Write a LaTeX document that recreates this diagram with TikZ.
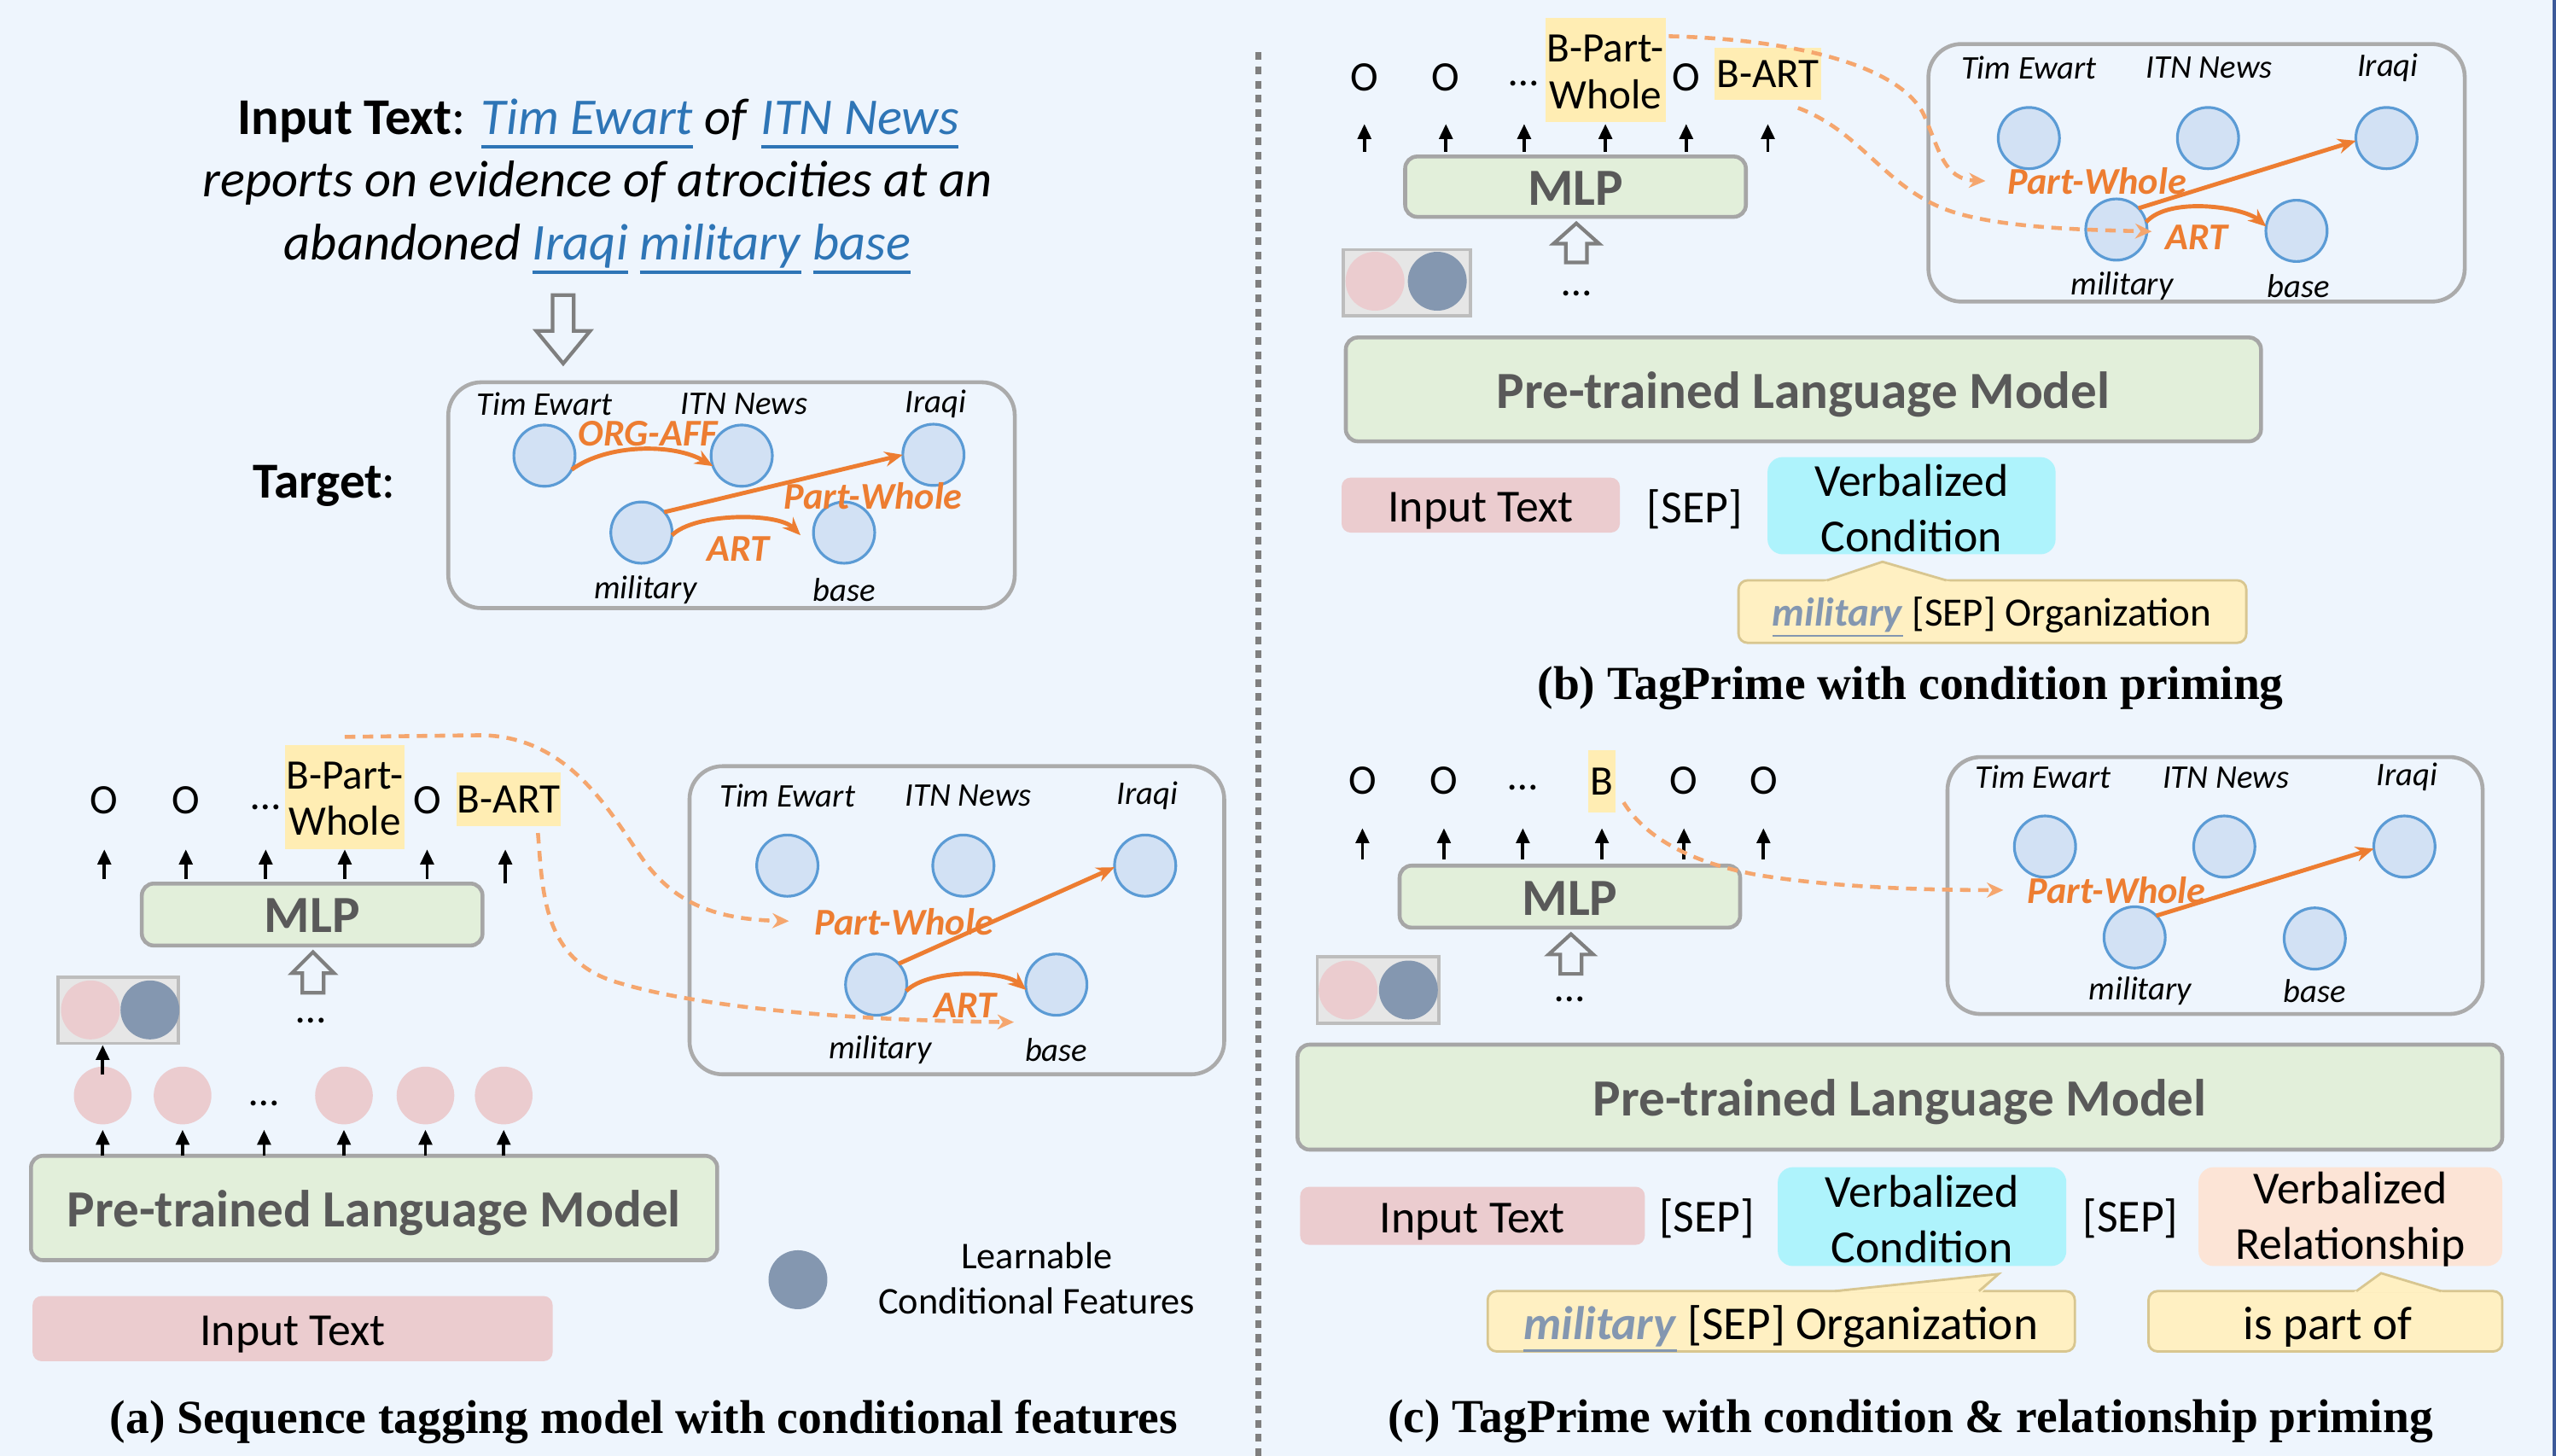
\documentclass[tikz,border=0pt]{standalone}
\usepackage{fontspec}
\setmainfont{Carlito}
\newfontfamily\zzcapfont{Liberation Serif}
\usetikzlibrary{arrows.meta,fit,calc}
\definecolor{bgc}{HTML}{EEF5FD}
\definecolor{greenf}{HTML}{E2EFDA}
\definecolor{boxline}{HTML}{A6A6A6}
\definecolor{gboxl}{HTML}{ABABAB}
\definecolor{pinkf}{HTML}{EBCCCF}
\definecolor{bluegray}{HTML}{8497B0}
\definecolor{pairf}{HTML}{E6E6E6}
\definecolor{pairl}{HTML}{BDBDBD}
\definecolor{circf}{HTML}{D2E1F4}
\definecolor{circl}{HTML}{5B9BD5}
\definecolor{orng}{HTML}{ED7D31}
\definecolor{dorng}{HTML}{F5A66E}
\definecolor{hly}{HTML}{FFEDB3}
\definecolor{callf}{HTML}{FFF0C2}
\definecolor{calll}{HTML}{D8C690}
\definecolor{cyanf}{HTML}{AEF3FC}
\definecolor{peachf}{HTML}{FCE4D6}
\definecolor{linkb}{HTML}{2E75B6}
\definecolor{plmtext}{HTML}{595959}
\definecolor{edgeb}{HTML}{3D5A99}
\definecolor{hollowl}{HTML}{7F7F7F}
\newcommand\zzA{\fontsize{17.2pt}{20.6pt}\selectfont}
\newcommand\zzB{\fontsize{17.4pt}{20pt}\selectfont}
\newcommand\zzC{\fontsize{15.3pt}{18.6pt}\selectfont}
\newcommand\zzT{\fontsize{14pt}{15.6pt}\selectfont}
\newcommand\zzG{\fontsize{11pt}{13pt}\selectfont}
\newcommand\zzR{\fontsize{12.6pt}{14pt}\selectfont}
\newcommand\zzL{\fontsize{12.6pt}{15.2pt}\selectfont}
\newcommand\zzTg{\fontsize{16.8pt}{20pt}\selectfont}
\newcommand\zzCb{\fontsize{13.4pt}{16pt}\selectfont}
\newcommand\zzCc{\fontsize{15.7pt}{18pt}\selectfont}
\newcommand\zzCap{\zzcapfont\fontsize{15.8pt}{18pt}\selectfont\bfseries}
\newcommand\zzul[2]{\setbox0\hbox{#2}\rlap{\rule[-0.27em]{\wd0}{#1}}\box0}
\newcommand\zzlnk[1]{{\color{linkb}\zzul{1.1pt}{\textit{#1}}}}
\newcommand\zzmil{{\color{bluegray}\zzul{0.8pt}{\textbf{\textit{military}}}}}
\begin{document}
\begin{tikzpicture}[x=0.019101cm,y=-0.019101cm,
  every node/.style={inner sep=0pt, outer sep=0pt},
  greenbox/.style={draw=boxline, line width=1.3pt, fill=greenf, rounded corners=4pt},
  greentxt/.style={font=\zzB\bfseries, text=plmtext},
  pinkbox/.style={fill=pinkf, rounded corners=3pt},
  cyanbox/.style={fill=cyanf, rounded corners=5pt},
  peachbox/.style={fill=peachf, rounded corners=5pt},
  boxtxt/.style={font=\zzC, align=center},
  hlbox/.style={fill=hly},
  tagtxt/.style={font=\zzT, align=center},
  gbox/.style={draw=gboxl, line width=1.3pt, rounded corners=11pt},
  gcirc/.style={circle, draw=circl, line width=0.9pt, fill=circf, minimum size=0.718cm},
  glab/.style={font=\zzG\itshape},
  rlab/.style={font=\zzR\bfseries\itshape, text=orng},
  pcirc/.style={circle, fill=pinkf, minimum size=0.676cm},
  bcirc/.style={circle, fill=bluegray, minimum size=0.69cm},
  pairbox/.style={draw=pairl, line width=1pt, fill=pairf},
  callout/.style={draw=calll, line width=0.8pt, fill=callf, rounded corners=3pt},
  uparr/.style={draw=black, line width=1.1pt, -{Triangle[length=5pt,width=4.4pt]}},
  relarr/.style={draw=orng, line width=1.4pt, -{Stealth[length=6pt,width=5pt]}},
  dsharr/.style={draw=dorng, line width=1.3pt, dash pattern=on 3.5pt off 2.5pt, -{Stealth[length=5.5pt,width=5pt]}},
  hollow/.style={draw=hollowl, line width=1.2pt, fill=bgc, line join=miter},
  septxt/.style={font=\zzC},
  captxt/.style={font=\zzCap},
]
\useasboundingbox (0,0) rectangle (1568,893);
\fill[bgc] (0,0) rectangle (1568,893);
\fill[edgeb] (1566,0) rectangle (1568,893);
\draw[hollowl, line width=2.2pt, dash pattern=on 2.6pt off 2.15pt] (772,32) -- (772,893);

% ================= panel (a) top =================
\node[font=\zzA, anchor=base] (inA1) at (367,82.5) {\textbf{Input Text}: \zzlnk{Tim Ewart} \textit{of} \zzlnk{ITN News}};
\node[font=\zzA\itshape, anchor=base] (inA2) at (366.5,120.8) {reports on evidence of atrocities at an};
\node[font=\zzA, anchor=base] (inA3) at (366.5,159.5) {\textit{abandoned} \zzlnk{Iraqi} \zzlnk{military} \zzlnk{base}};
\draw[hollow] (339,181) -- (352,181) -- (352,203) -- (362,203) -- (345.5,223) -- (329,203) -- (339,203) -- cycle;
\node[font=\zzTg] (tgt) at (199,298) {\textbf{Target}:};
\node[gbox, fit={(275,234.5)(622.5,373)}] (gT) {};
\node[glab] (ltT) at (334,247.8) {Tim Ewart};
\node[glab] (liT) at (456.5,247.8) {ITN News};
\node[glab] (lqT) at (574,247.8) {Iraqi};
\node[glab] (lmT) at (396,362) {military};
\node[glab] (lbT) at (518,362) {base};
\node[gcirc] (tT) at (334,279.5) {};
\node[gcirc] (iT) at (455,279.5) {};
\node[gcirc] (qT) at (572.6,279) {};
\node[gcirc] (mT) at (393.5,326.7) {};
\node[gcirc] (bT) at (517.8,326.7) {};
\draw[relarr] (tT.-27) .. controls +(22,-16) and +(-24,-14) .. (iT.200);
\draw[relarr] (mT.42) -- (qT.180);
\draw[relarr] (mT.-5) .. controls +(14,-14) and +(-14,-14) .. ($(bT.185)+(-8,0)$);
\node[rlab] (orgT) at (397.5,266) {ORG-AFF};
\node[rlab] (pwT) at (535.6,304) {Part-Whole};
\node[rlab] (artT) at (453,336.7) {ART};

% ================= panel (a) bottom =================
\node[tagtxt] (oA1) at (64,491) {O};
\node[tagtxt] (oA2) at (114,491) {O};
\node[tagtxt] (dA) at (163,495) {\ldots};
\node[hlbox, fit={(175,457)(248,521)}] (bpwA) {};
\node[tagtxt] (bpwAt) at ($(bpwA.center)+(0,1)$) {B-Part-\\Whole};
\node[tagtxt] (oA5) at (262,491) {O};
\node[hlbox, fit={(280,474)(344,507)}] (bartA) {};
\node[tagtxt] (bartAt) at (bartA.center) {B-ART};
\node[greenbox, fit={(87,542)(296,580)}] (mlpA) {};
\node[greentxt] (mlpAt) at ($(mlpA.center)+(0,0.5)$) {MLP};
\foreach \tg in {oA1,oA2,dA,bpwA,oA5}
  \draw[uparr] ($(\tg |- mlpA.north)+(0,-3)$) -- ($(\tg |- mlpA.north)+(0,-21)$);
\draw[uparr] ($(bartA.south)+(-2,35)$) -- ($(bartA.south)+(-2,14)$);
\draw[hollow] (192,584) -- (205,597) -- (198.5,597) -- (198.5,609) -- (185.5,609) -- (185.5,597) -- (179,597) -- cycle;
\node[tagtxt] (dotsA) at (191,626) {\ldots};
\node[pairbox, fit={(35.7,599.5)(109.4,640)}] (pairA) {};
\node[pcirc, minimum size=0.69cm] (ppA) at (55.5,619.5) {};
\node[bcirc] (pbA) at (92,619.5) {};
\node[pcirc] (pA1) at (63,672) {};
\node[pcirc] (pA2) at (112,672) {};
\node[tagtxt] (dA2) at (162,677) {\ldots};
\node[pcirc] (pA4) at (211,672) {};
\node[pcirc] (pA5) at (261,672) {};
\node[pcirc] (pA6) at (309,672) {};
\draw[uparr] ($(pA1.north)+(0,5)$) -- ($(pA1 |- pairA.south)+(0,1)$);
\node[greenbox, fit={(19,709)(440,773)}] (plmA) {};
\node[greentxt] (plmAt) at ($(plmA.center)+(0,3)$) {Pre-trained Language Model};
\foreach \tg in {pA1,pA2,dA2,pA4,pA5,pA6}
  \draw[uparr] (\tg |- plmA.north) -- ($(\tg |- plmA.north)+(0,-16)$);
\node[pinkbox, fit={(20,795)(339,835)}] (itA) {};
\node[boxtxt] (itAt) at ($(itA.center)+(0,3.5)$) {Input Text};
\node[bcirc] (lgc) at (489.5,785) {};
\node[font=\zzL, align=center] (lgt) at (636,784) {Learnable\\Conditional Features};
\node[captxt] (capA) at (395,872) {(a) Sequence tagging model with conditional features};

\node[gbox, fit={(423,470)(751,659)}] (gA) {};
\node[glab] (ltA) at (483,488) {Tim Ewart};
\node[glab] (liA) at (594,488) {ITN News};
\node[glab] (lqA) at (704,488) {Iraqi};
\node[glab] (lmA) at (540,644) {military};
\node[glab] (lbA) at (648,644) {base};
\node[gcirc] (tA) at (483,531) {};
\node[gcirc] (iA) at (591,531) {};
\node[gcirc] (qA) at (702.5,531) {};
\node[gcirc] (mA) at (537.5,604) {};
\node[gcirc] (bA) at (648,604) {};
\draw[relarr] (mA.43) -- (qA.183);
\draw[relarr] (mA.-12) .. controls +(14,-14) and +(-14,-12) .. (bA.190);
\node[rlab] (pwA) at (554.5,565.5) {Part-Whole};
\node[rlab] (artA) at (592,617) {ART};
\coordinate (pwinA) at (484,565);
\coordinate (artinA) at (622,627);
\draw[dsharr] ($(bpwA.north)+(0,-5)$) -- (294,451) .. controls (350,451) and (375,500) .. (395,528) .. controls (415,555) and (440,564) .. (pwinA);
\draw[dsharr] ($(bartA.south)+(18,4)$) .. controls (333,548) and (333,590) .. (380,603) .. controls (430,618) and (520,626) .. (artinA);

% ================= panel (b) =================
\node[tagtxt] (oB1) at (837,47.7) {O};
\node[tagtxt] (oB2) at (887,47.7) {O};
\node[tagtxt] (dB) at (935,51) {\ldots};
\node[hlbox, fit={(948,11.2)(1021.7,75)}] (bpwB) {};
\node[tagtxt] (bpwBt) at ($(bpwB.center)+(0,1)$) {B-Part-\\Whole};
\node[tagtxt] (oB5) at (1034.4,47.7) {O};
\node[hlbox, fit={(1052,29.4)(1117,61.2)}] (bartB) {};
\node[tagtxt] (bartBt) at (bartB.center) {B-ART};
\node[greenbox, fit={(862,96)(1071,133)}] (mlpB) {};
\node[greentxt] (mlpBt) at ($(mlpB.center)+(0,1)$) {MLP};
\foreach \tg in {oB1,oB2,dB,bpwB,oB5,bartB}
  \draw[uparr] ($(\tg |- mlpB.north)+(0,-3)$) -- ($(\tg |- mlpB.north)+(0,-20)$);
\draw[hollow] (967,137) -- (981,149.5) -- (973.5,149.5) -- (973.5,161) -- (960.5,161) -- (960.5,149.5) -- (953,149.5) -- cycle;
\node[tagtxt] (dotsB) at (967,180) {\ldots};
\node[pairbox, fit={(824,153)(902,193.7)}] (pairB) {};
\node[pcirc, minimum size=0.69cm] (ppB) at (843.5,172.5) {};
\node[bcirc] (pbB) at (881.7,172.5) {};
\node[greenbox, fit={(825.6,207)(1387,270.7)}] (plmB) {};
\node[greentxt] (plmBt) at ($(plmB.center)+(0,3)$) {Pre-trained Language Model};
\node[pinkbox, fit={(823,293)(993.7,326.7)}] (itB) {};
\node[boxtxt] (itBt) at ($(itB.center)+(0,3.5)$) {Input Text};
\node[septxt] (sepB) at (1039.6,312.5) {[SEP]};
\node[cyanbox, fit={(1084.3,280.4)(1261,340)}] (vcB) {};
\node[boxtxt] (vcBt) at ($(vcB.center)+(0,1.5)$) {Verbalized\\Condition};
\node[callout, fit={(1066.5,356)(1378,394.3)}] (coB) {};
\fill[callf] (1118.5,357) -- (1154.8,344.6) -- (1196.5,357) -- cycle;
\draw[calll, line width=0.8pt] (1120.8,356) -- (1154.8,344.6) -- (1194,356);
\node[font=\zzCb] (coBt) at (1222,378.5) {\zzmil\ [SEP] Organization};
\node[captxt] (capB) at (1172,422) {(b) TagPrime with condition priming};

\node[gbox, fit={(1183,27)(1512,185)}] (gB) {};
\node[glab] (ltB) at (1244.7,41.5) {Tim Ewart};
\node[glab] (liB) at (1355.3,41.5) {ITN News};
\node[glab] (lqB) at (1464.8,41.5) {Iraqi};
\node[glab] (lmB) at (1301.8,175.3) {military};
\node[glab] (lbB) at (1410,175.3) {base};
\node[gcirc] (tB) at (1244.6,84.7) {};
\node[gcirc] (iB) at (1354.5,84.7) {};
\node[gcirc] (qB) at (1464,84.7) {};
\node[gcirc] (mB) at (1298.3,140.8) {};
\node[gcirc] (bB) at (1408.8,141.6) {};
\draw[relarr] (mB.44) -- (qB.185);
\draw[relarr] (mB.14) .. controls +(14,-16) and +(-14,-12) .. (bB.172);
\node[rlab] (pwB) at (1286.4,110.8) {Part-Whole};
\node[rlab] (artB) at (1347.6,145.8) {ART};
\coordinate (pwinB) at (1218,111);
\coordinate (artinB) at (1320,142);
\draw[dsharr] ($(bpwB.north east)+(2,11)$) .. controls (1100,24) and (1165,40) .. (1180,70) .. controls (1190,92) and (1192,110) .. (pwinB);
\draw[dsharr] ($(bartB.south east)+(-14,5)$) .. controls (1140,80) and (1155,112) .. (1190,127) .. controls (1220,140) and (1280,141) .. (artinB);

% ================= panel (c) =================
\node[tagtxt] (oC1) at (835.8,478.8) {O};
\node[tagtxt] (oC2) at (885.8,478.8) {O};
\node[tagtxt] (dC) at (934.2,483) {\ldots};
\node[hlbox, fit={(974.4,460)(991,498.4)}] (bC) {};
\node[tagtxt] (bCt) at (bC.center) {B};
\node[tagtxt] (oC5) at (1033,478.8) {O};
\node[tagtxt] (oC6) at (1081.8,478.8) {O};
\node[greenbox, fit={(858.6,531)(1067.5,569)}] (mlpC) {};
\node[greentxt] (mlpCt) at ($(mlpC.center)+(0,1)$) {MLP};
\foreach \tg in {oC1,oC2,dC,bC,oC5,oC6}
  \draw[uparr] ($(\tg |- mlpC.north)+(0,-4)$) -- ($(\tg |- mlpC.north)+(0,-23)$);
\draw[hollow] (963.7,573) -- (977.4,585.5) -- (970.2,585.5) -- (970.2,597.4) -- (957.2,597.4) -- (957.2,585.5) -- (950,585.5) -- cycle;
\node[tagtxt] (dotsC) at (963,613) {\ldots};
\node[pairbox, fit={(808,587)(882.7,627.7)}] (pairC) {};
\node[pcirc, minimum size=0.69cm] (ppC) at (827,607.3) {};
\node[bcirc] (pbC) at (864,607.3) {};
\node[greenbox, fit={(796,640.8)(1535,705.2)}] (plmC) {};
\node[greentxt] (plmCt) at ($(plmC.center)+(0,3)$) {Pre-trained Language Model};
\node[pinkbox, fit={(797.6,728)(1009,763.6)}] (itC) {};
\node[boxtxt] (itCt) at ($(itC.center)+(0,3.5)$) {Input Text};
\node[septxt] (sepC1) at (1047,747.5) {[SEP]};
\node[cyanbox, fit={(1090.6,716)(1267.6,776.6)}] (vcC) {};
\node[boxtxt] (vcCt) at ($(vcC.center)+(0,1.5)$) {Verbalized\\Condition};
\node[septxt] (sepC2) at (1307,747.5) {[SEP]};
\node[peachbox, fit={(1348.7,716)(1535,776.6)}] (vrC) {};
\node[boxtxt] (vrCt) at ($(vrC.center)+(0,1.5)$) {Verbalized\\Relationship};
\node[callout, fit={(912.6,792)(1272.8,829)}] (coC1) {};
\fill[callf] (1123,793) -- (1226,781.5) -- (1215.5,793) -- cycle;
\draw[calll, line width=0.8pt] (1125.6,792) -- (1226,781.5) -- (1214,792);
\node[font=\zzCc] (coC1t) at (1092.4,815) {\zzmil\ [SEP] Organization};
\node[callout, fit={(1318,792)(1535,829)}] (coC2) {};
\fill[callf] (1443.5,793) -- (1460.7,781) -- (1499.5,793) -- cycle;
\draw[calll, line width=0.8pt] (1445.5,792) -- (1460.7,781) -- (1497.4,792);
\node[font=\zzCc] (coC2t) at (1428,814) {is part of};
\node[captxt] (capC) at (1172,872) {(c) TagPrime with condition \& relationship priming};

\node[gbox, fit={(1194.7,464.4)(1523,622)}] (gC) {};
\node[glab] (ltC) at (1253.4,476.8) {Tim Ewart};
\node[glab] (liC) at (1365.5,476.8) {ITN News};
\node[glab] (lqC) at (1476.6,476.8) {Iraqi};
\node[glab] (lmC) at (1313,608) {military};
\node[glab] (lbC) at (1420,608) {base};
\node[gcirc] (tC) at (1254.5,519.3) {};
\node[gcirc] (iC) at (1364.5,519.3) {};
\node[gcirc] (qC) at (1475,519.3) {};
\node[gcirc] (mC) at (1309.5,575) {};
\node[gcirc] (bC2) at (1420,575.7) {};
\draw[relarr] (mC.45) -- (qC.184);
\node[rlab] (pwC) at (1298.3,546) {Part-Whole};
\coordinate (pwinC) at (1229,546);
\draw[dsharr] ($(bC.east)+(5,13)$) .. controls (1010,515) and (1040,530) .. (1080,537) .. controls (1130,545) and (1190,546) .. (pwinC);
\end{tikzpicture}
\end{document}
